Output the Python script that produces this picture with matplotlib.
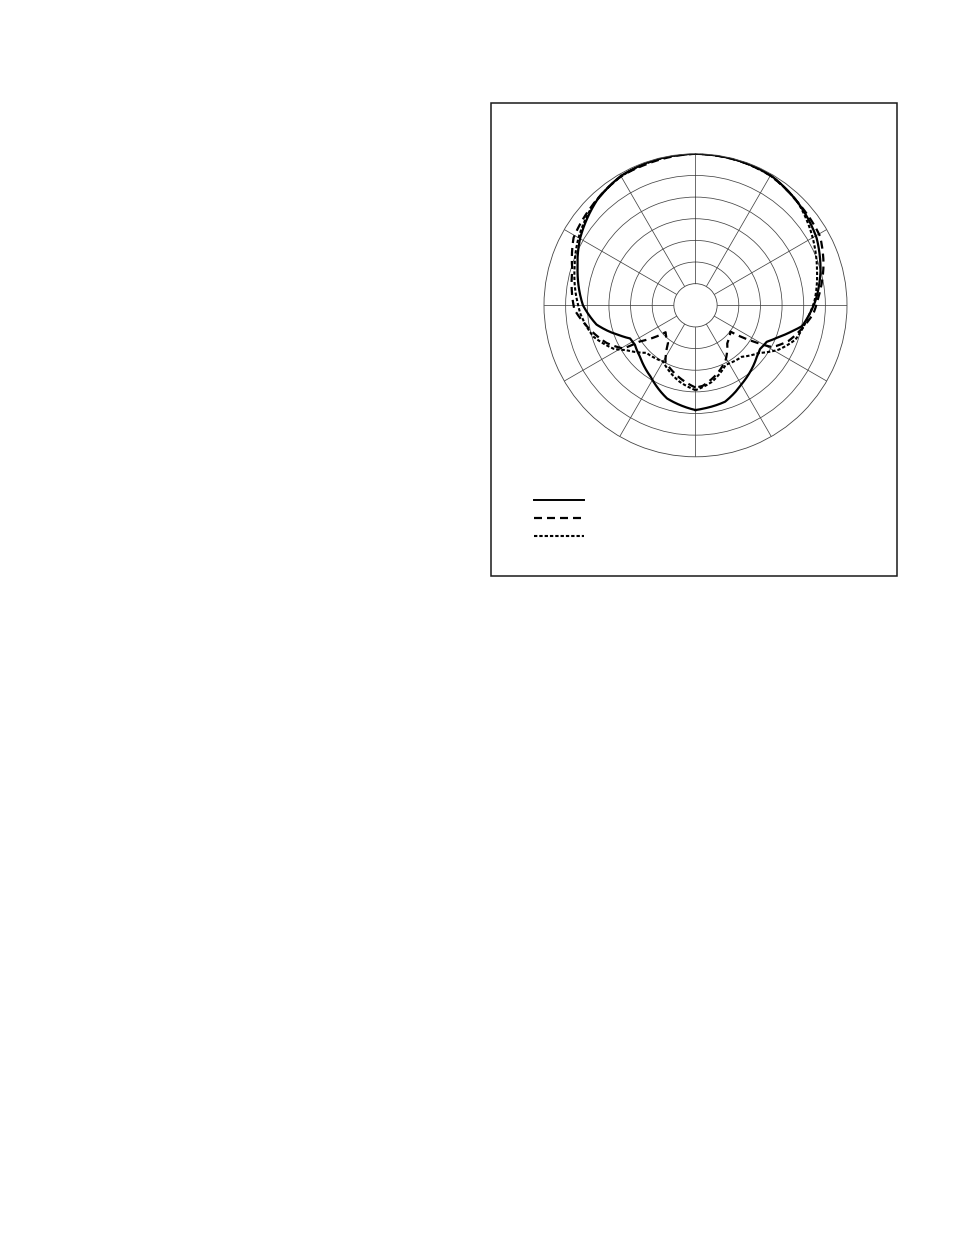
import numpy as np
import matplotlib
matplotlib.use("Agg")
import matplotlib.pyplot as plt
from matplotlib.lines import Line2D
from matplotlib.patches import Rectangle

# polar response readings: angle (deg, clockwise from front) and level (dB)
solid_ang = [-180, -163, -148, -133, -123, -117, -112, -101, -90, -73, -60, -43, -30, -15,
             0, 15, 30, 45, 61, 75, 88, 101, 105, 111, 117, 124, 130, 149, 163, 175, 180]
solid_db = [-10.8, -12.5, -15.5, -17.5, -18.3, -18.1, -16.3, -11.7, -9.0, -6.5, -4.2, -1.7, -0.5, -0.1,
            0.0, -0.1, -0.3, -1.5, -3.0, -5.1, -7.3, -9.9, -11.9, -14.5, -16.5, -17.0, -16.5, -14.0, -11.7, -11.1, -10.8]

dash_ang = [-180, -168, -152, -144, -132, -123, -121, -113, -103, -92, -74, -61, -47, -30, -20,
            0, 20, 30, 45, 61, 72, 86, 94, 99, 111, 117, 119, 122, 127, 140, 151, 162, 175, 180]
dash_db = [-16.0, -17.8, -20.2, -24.2, -25.7, -19.7, -15.6, -12.7, -10.0, -7.0, -5.4, -2.8, -1.9, -0.6, -0.5,
           0.0, -0.2, -0.4, -1.5, -2.1, -3.9, -6.5, -7.7, -9.0, -12.0, -14.2, -15.3, -19.2, -24.9, -23.6, -20.6, -18.5, -16.3, -16.0]

dot_ang = [-180, -168, -150, -134, -123, -118, -107, -94, -90, -74, -60, -45, -30, -15,
           0, 15, 30, 45, 65, 74, 88, 97, 109, 118, 127, 138, 153, 168, 180]
dot_db = [-15.4, -17.0, -20.0, -19.2, -16.0, -13.6, -10.3, -8.3, -7.9, -5.9, -3.8, -1.8, -0.6, -0.2,
          0.0, -0.1, -0.4, -1.5, -4.5, -5.8, -7.5, -9.0, -10.6, -13.2, -16.7, -19.0, -19.6, -16.9, -15.4]

ring_db = [-25, -20, -15, -10, -5]

W, H = 954, 1235
fig = plt.figure(figsize=(W / 100, H / 100), dpi=100)
fig.patch.set_facecolor("white")

cx, cy, rad = 695.5, 305.3, 151.5
ax = fig.add_axes([(cx - rad) / W, 1 - (cy + rad) / H, 2 * rad / W, 2 * rad / H], projection="polar")
ax.set_theta_zero_location("N")
ax.set_theta_direction(-1)
ax.set_ylim(-30, 0)
ax.set_rorigin(-35)

gcol = "#444444"
ax.set_rgrids(ring_db, labels=[""] * len(ring_db))
ax.set_thetagrids(np.arange(0, 360, 30), labels=[""] * 12)
ax.grid(True, color=gcol, linewidth=0.55)
for s in ax.spines.values():
    s.set_color(gcol)
    s.set_linewidth(0.6)
ax.tick_params(length=0)

dash_style = (3.6, 2.25)
dot_style = (1.6, 0.95)

lines = []
lines += ax.plot(np.deg2rad(solid_ang), solid_db, color="black", lw=1.6, solid_joinstyle="round")
lines += ax.plot(np.deg2rad(dash_ang), dash_db, color="black", lw=1.6, dashes=dash_style)
lines += ax.plot(np.deg2rad(dot_ang), dot_db, color="black", lw=1.5, dashes=dot_style)
# let the polar transform bend each segment along the angle
for ln in lines:
    ln.get_path()._interpolation_steps = 40

# frame around the chart
fig.add_artist(Rectangle((491.3 / W, 1 - 575.7 / H), (897 - 491.3) / W, (575.7 - 103.3) / H,
                         transform=fig.transFigure, fill=False, edgecolor="#1a1a1a", lw=1.1))

# legend keys (no text)
handles = [Line2D([], [], color="black", lw=1.4),
           Line2D([], [], color="black", lw=1.6, dashes=dash_style),
           Line2D([], [], color="black", lw=1.5, dashes=dot_style)]
fig.legend(handles, ["", "", ""], loc="upper left", bbox_to_anchor=(534 / W, 1 - 494 / H),
           frameon=False, handlelength=3.6, borderpad=0, borderaxespad=0, handletextpad=0,
           labelspacing=0.30, fontsize=10)

fig.savefig("out.png", dpi=100)
